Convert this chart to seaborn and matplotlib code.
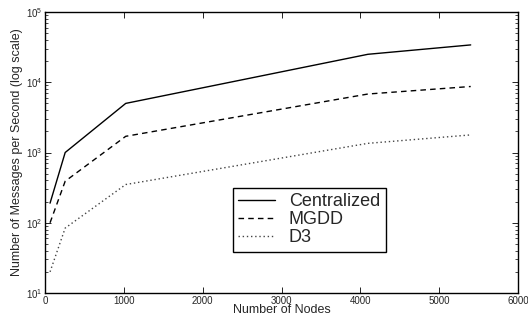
import numpy as np
import pandas as pd
import matplotlib
matplotlib.use("Agg")
import matplotlib.pyplot as plt
import seaborn as sns
from matplotlib.ticker import LogLocator, NullFormatter
from matplotlib.lines import Line2D

nodes = [64, 256, 1024, 4096, 5400]
centralized = [190, 1000, 5000, 25000, 34000]
mgdd = [100, 390, 1700, 6800, 8700]
d3 = [20, 84, 350, 1350, 1780]
series_names = ["Centralized", "MGDD", "D3"]

df = pd.DataFrame({
    "nodes": nodes * 3,
    "value": centralized + mgdd + d3,
    "series": [s for s in series_names for _ in nodes],
})

sns.set_style("white")
plt.rcParams["font.family"] = ["Liberation Sans", "DejaVu Sans"]
plt.rcParams["mathtext.fontset"] = "custom"
plt.rcParams["mathtext.rm"] = "Liberation Sans"

fig = plt.figure(figsize=(5.28, 3.18), dpi=100)
ax = fig.add_axes([45 / 528, 1 - 293 / 318, (518 - 45) / 528, (293 - 12) / 318])

sns.lineplot(data=df, x="nodes", y="value", hue="series", style="series",
             palette={"Centralized": "black", "MGDD": "black", "D3": "#444444"},
             dashes={"Centralized": "", "MGDD": (4, 3), "D3": (1, 2)},
             linewidth=1.0, ax=ax, legend=False)

ax.set_yscale("log")
ax.set_xlim(0, 6000)
ax.set_ylim(10, 1e5)
ax.set_xticks([0, 1000, 2000, 3000, 4000, 5000, 6000])
ax.yaxis.set_major_locator(LogLocator(base=10, numticks=10))
ax.yaxis.set_minor_locator(LogLocator(base=10, subs=np.arange(2, 10), numticks=20))
ax.yaxis.set_minor_formatter(NullFormatter())

for sp in ax.spines.values():
    sp.set_visible(True)
    sp.set_color("black")
    sp.set_linewidth(1.0)

ax.tick_params(which="both", direction="in", top=True, right=True, bottom=True, left=True,
               color="black", labelsize=7, pad=2)
ax.tick_params(which="major", length=4, width=0.6)
ax.tick_params(which="minor", length=2, width=0.5)

ax.set_xlabel("Number of Nodes", fontsize=9, labelpad=-1)
ax.set_ylabel("Number of Messages per Second (log scale)", fontsize=9, labelpad=2)

handles = [
    Line2D([], [], color="black", lw=1.0, ls="-"),
    Line2D([], [], color="black", lw=1.0, ls=(0, (4, 3))),
    Line2D([], [], color="#444444", lw=1.0, ls=(0, (1, 2))),
]
leg = ax.legend(handles, series_names, loc="upper left",
                bbox_to_anchor=((233 - 45) / 473, 1 - (188 - 12) / 281),
                fontsize=13, frameon=True, fancybox=False, framealpha=1,
                edgecolor="black", borderpad=0.3, labelspacing=0.05,
                handlelength=2.0, handletextpad=0.8, borderaxespad=0)
leg.get_frame().set_linewidth(1.0)

fig.savefig("out.png", dpi=100)
